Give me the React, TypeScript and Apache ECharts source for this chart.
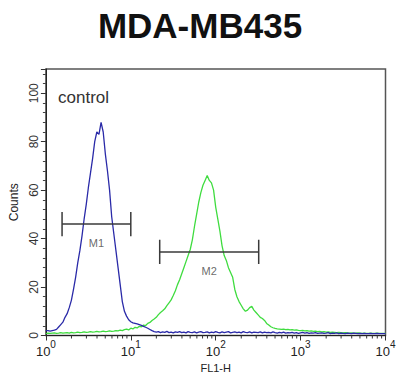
import React, { useEffect, useRef } from "react";
import * as echarts from "echarts";

const TITLE = "MDA-MB435";
const SAMPLE_LABEL = "control";
const X_NAME = "FL1-H";
const Y_NAME = "Counts";

// FL1-H bin positions: 160 log channels across 4 decades
const DECADES = 4;
const CHANNELS = 160;
const fl1 = Array.from({ length: CHANNELS + 1 }, (_, i) => Math.pow(10, (i * DECADES) / CHANNELS));

// control (blue) histogram counts
const controlCounts = [
  2, 2, 1.8, 2, 2.2, 2.5, 3.5, 4.5, 5.5, 7.5,
  9, 11.5, 14.5, 19, 24, 30, 35, 41, 48, 54,
  61, 67, 73, 80, 84, 83, 88, 84, 75, 68,
  60, 49, 42, 35, 28, 21, 14, 10, 8, 6.5,
  5.7, 5.2, 5, 4.8, 4.5, 4.2, 3.8, 3.4, 3, 2.5,
  2, 1.6, 1.4, 1.6, 1.2, 1.5, 1.3, 1.7, 1.2, 1.4,
  1.1, 1.5, 1.3, 1.6, 1.2, 1.4, 1.1, 1.6, 1.3, 1.2,
  1.5, 1.1, 1.4, 1.6, 1.2, 1.3, 1.5, 1.1, 1.4, 1.2,
  1.6, 1.3, 1.1, 1.5, 1.2, 1.4, 1.6, 1.1, 1.3, 1.5,
  1.2, 1.4, 1.1, 1.6, 1.3, 1.2, 1.5, 1.1, 1.4, 1.3,
  1.2, 1.5, 1.1, 1.4, 1.2, 1.3, 1.1, 1.5, 1.2, 1,
  1.3, 1.1, 1.4, 1, 1.2, 1.1, 1.3, 1, 1.2, 0.9,
  1.1, 1.3, 1, 1.2, 0.9, 1.1, 1, 1.2, 0.9, 1,
  1.1, 0.9, 1, 1.2, 0.8, 1, 0.9, 1.1, 0.8, 1,
  0.9, 0.8, 1, 0.9, 0.8, 1, 0.9, 0.8, 0.9, 0.8,
  0.9, 0.8, 0.8, 0.9, 0.8, 0.8, 0.9, 0.8, 0.8, 0.8, 0.8,
];

// stained sample (green) histogram counts
const sampleCounts = [
  0.8, 1, 0.9, 1, 1.1, 0.9, 1, 1.2, 1, 1.1,
  1.2, 1, 1.3, 1.1, 1.2, 1.4, 1.2, 1.3, 1.5, 1.3,
  1.4, 1.6, 1.4, 1.5, 1.7, 1.5, 1.6, 1.8, 1.6, 1.7,
  1.9, 1.7, 1.8, 2, 1.9, 2.2, 2, 2.4, 2.6, 2.3,
  3, 2.7, 3.4, 3.1, 3.8, 3.6, 4.3, 4.1, 5, 5.4,
  6.2, 6.8, 7.5, 8.6, 9.5, 10.2, 11, 12.3, 13.5, 14.7,
  16.5, 18.5, 21, 23, 25.5, 28, 30.5, 33, 35.5, 39.5,
  45, 50, 55, 59, 62, 64, 66, 64, 63, 60,
  53, 48, 43, 37, 33, 31, 28, 26, 24, 19,
  16, 14, 12.5, 11, 10, 10.5, 11.5, 12, 10.5, 9.5,
  8.5, 7.5, 7, 6.2, 5, 4.3, 3.6, 3.2, 2.9, 2.7,
  2.6, 2.5, 2.6, 2.4, 2.5, 2.3, 2.4, 2.2, 2.3, 2.1,
  2, 2.1, 1.9, 2, 1.8, 1.9, 1.7, 1.8, 1.6, 1.7,
  1.5, 1.6, 1.4, 1.5, 1.3, 1.4, 1.3, 1.2, 1.3, 1.2,
  1.1, 1.2, 1.1, 1, 1.1, 1, 1, 1.1, 1, 0.9,
  1, 0.9, 0.9, 1, 0.9, 0.9, 1, 0.9, 0.9, 0.9, 0.9,
];

// gate markers
const markerNames = ["M1", "M2"];
const markerLo = [1.55, 21.9];
const markerHi = [10, 321];
const markerY = [46, 34.5];
const markerCap = 5;

// log axis minor tick values
const minorXTicks = [
  2, 3, 4, 5, 6, 7, 8, 9,
  20, 30, 40, 50, 60, 70, 80, 90,
  200, 300, 400, 500, 600, 700, 800, 900,
  2000, 3000, 4000, 5000, 6000, 7000, 8000, 9000,
];

const Y_MAX = 110;
const Y_INTERVAL = 20;

export default function App() {
  const ref = useRef<HTMLDivElement>(null);

  useEffect(() => {
    if (!ref.current) return;
    const chart = echarts.init(ref.current, null, { renderer: "svg" });
    const font = "Liberation Sans, Arial, sans-serif";

    const markerSeries: any[] = [];
    markerNames.forEach((name, k) => {
      markerSeries.push({
        type: "line",
        name: name + "-bar",
        data: [
          [markerLo[k], markerY[k]],
          [markerHi[k], markerY[k]],
        ],
        symbol: "none",
        lineStyle: { color: "#3a3a3a", width: 1.5 },
        silent: true,
        z: 5,
      });
      [markerLo[k], markerHi[k]].forEach((xv, j) => {
        markerSeries.push({
          type: "line",
          name: name + "-cap" + j,
          data: [
            [xv, markerY[k] - markerCap],
            [xv, markerY[k] + markerCap],
          ],
          symbol: "none",
          lineStyle: { color: "#3a3a3a", width: 1.5 },
          silent: true,
          z: 5,
        });
      });
      markerSeries.push({
        type: "scatter",
        name: name + "-label",
        data: [[Math.sqrt(markerLo[k] * markerHi[k]), markerY[k]]],
        symbolSize: 0,
        label: {
          show: true,
          formatter: name,
          position: "inside",
          offset: [0, 19],
          fontSize: 11,
          fontFamily: font,
          color: "#444",
        },
        silent: true,
        z: 6,
      });
    });

    chart.setOption({
      animation: false,
      backgroundColor: "#ffffff",
      title: {
        text: TITLE,
        left: "center",
        top: 3,
        textStyle: { fontSize: 35, fontWeight: "bold", fontFamily: font, color: "#111" },
      },
      graphic: [
        {
          type: "text",
          left: 58,
          top: 89,
          style: { text: SAMPLE_LABEL, font: "17px " + font, fill: "#333" },
        },
      ],
      grid: {
        left: 44,
        right: 14.5,
        top: 69,
        bottom: 43.5,
        show: true,
        borderColor: "#555",
        borderWidth: 1.5,
        backgroundColor: "transparent",
      },
      xAxis: {
        type: "log",
        logBase: 10,
        min: 1,
        max: 10000,
        name: X_NAME,
        nameLocation: "middle",
        nameGap: 22,
        nameTextStyle: { fontSize: 11, fontFamily: font, color: "#222" },
        axisLine: { lineStyle: { color: "#222", width: 1 } },
        axisTick: { length: 5, lineStyle: { color: "#333" } },
        splitLine: { show: false },
        axisLabel: {
          margin: 4,
          formatter: (v: number) => "{b|10}{s|" + Math.round(Math.log10(v)) + "}",
          rich: {
            b: { fontSize: 13, fontFamily: font, color: "#222", verticalAlign: "bottom", lineHeight: 18 },
            s: { fontSize: 10, fontFamily: font, color: "#222", verticalAlign: "top", lineHeight: 12 },
          },
        },
      },
      yAxis: {
        type: "value",
        min: 0,
        max: Y_MAX,
        interval: Y_INTERVAL,
        name: Y_NAME,
        nameLocation: "middle",
        nameGap: 23,
        nameTextStyle: { fontSize: 12, fontFamily: font, color: "#222" },
        axisLine: { show: true, lineStyle: { color: "#222", width: 1 } },
        axisTick: { show: true, length: 5, lineStyle: { color: "#333" } },
        minorTick: { show: true, splitNumber: 5, length: 3, lineStyle: { color: "#444" } },
        splitLine: { show: false },
        axisLabel: {
          rotate: 90,
          margin: 6,
          fontSize: 12,
          fontFamily: font,
          color: "#333",
          showMaxLabel: false,
        },
      },
      series: [
        {
          type: "line",
          name: "sample",
          data: fl1.map((x, i) => [x, sampleCounts[i]]),
          symbol: "none",
          lineStyle: { color: "#3fdc3f", width: 1.3 },
          silent: true,
          z: 3,
        },
        {
          type: "line",
          name: "control",
          data: fl1.map((x, i) => [x, controlCounts[i]]),
          symbol: "none",
          lineStyle: { color: "#2a2aa8", width: 1.3 },
          silent: true,
          z: 4,
        },
        ...markerSeries,
        {
          type: "custom",
          name: "minorTicks",
          clip: false,
          silent: true,
          data: minorXTicks.map((v) => [v, 0]),
          encode: { x: 0, y: 1 },
          renderItem: (params: any, api: any) => {
            const p = api.coord([api.value(0), 0]);
            return {
              type: "line",
              shape: { x1: p[0], y1: p[1], x2: p[0], y2: p[1] + 3 },
              style: { stroke: "#333", lineWidth: 1 },
            };
          },
          z: 7,
        },
      ],
    });
    return () => chart.dispose();
  }, []);

  return (
    <div
      ref={ref}
      style={{ position: "fixed", left: 0, top: 0, width: 400, height: 379, background: "#fff" }}
    />
  );
}
